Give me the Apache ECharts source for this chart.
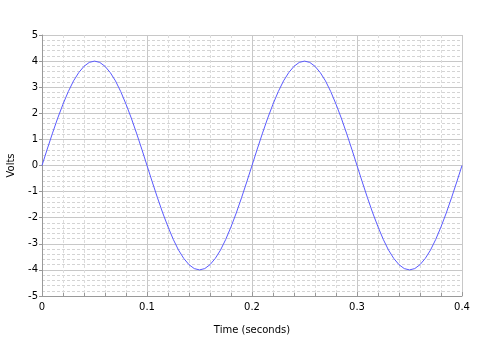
<!DOCTYPE html>
<html>
<head>
<meta charset="UTF-8">
<title></title>
<script src="https://cdn.jsdelivr.net/npm/echarts@6/dist/echarts.min.js"></script>
<style>
  html, body { margin: 0; padding: 0; background: #fff; }
</style>
</head>
<body>
<div id="main" style="width: 480px; height: 355px;"></div>
<script type="text/javascript">
// sample times (s), one every 0.005
var times = [];
for (var i = 0; i <= 80; i++) times.push(+(i * 0.005).toFixed(3));

// voltage at each sample
var volts = [
  0, 0.63, 1.24, 1.82, 2.35, 2.83, 3.24, 3.56, 3.80, 3.95,
  4.00, 3.95, 3.80, 3.56, 3.24, 2.83, 2.35, 1.82, 1.24, 0.63,
  0, -0.63, -1.24, -1.82, -2.35, -2.83, -3.24, -3.56, -3.80, -3.95,
  -4.00, -3.95, -3.80, -3.56, -3.24, -2.83, -2.35, -1.82, -1.24, -0.63,
  0, 0.63, 1.24, 1.82, 2.35, 2.83, 3.24, 3.56, 3.80, 3.95,
  4.00, 3.95, 3.80, 3.56, 3.24, 2.83, 2.35, 1.82, 1.24, 0.63,
  0, -0.63, -1.24, -1.82, -2.35, -2.83, -3.24, -3.56, -3.80, -3.95,
  -4.00, -3.95, -3.80, -3.56, -3.24, -2.83, -2.35, -1.82, -1.24, -0.63,
  0
];

var xName = 'Time (seconds)';
var yName = 'Volts';

var chart = echarts.init(document.getElementById('main'));

var pts = times.map(function (t, i) { return [t, volts[i]]; });

var font = 'DejaVu Sans';

chart.setOption({
  animation: false,
  grid: { left: 42, right: 18, top: 35, bottom: 59, outerBoundsMode: 'none', containLabel: false },
  xAxis: {
    type: 'value',
    min: 0, max: 0.4, interval: 0.1,
    name: xName,
    nameLocation: 'middle',
    nameGap: 29,
    nameTextStyle: { fontFamily: font, fontSize: 10, color: '#000' },
    axisLine: { show: true, onZero: false, lineStyle: { color: '#999' } },
    axisTick: { show: true, inside: true, length: 4, lineStyle: { color: '#999' } },
    minorTick: { show: true, splitNumber: 5, length: 3, lineStyle: { color: '#999' } },
    axisLabel: { fontFamily: font, fontSize: 10, color: '#000', margin: 6,
      formatter: function (v) { return v === 0 ? '0' : v.toFixed(1); } },
    splitLine: { show: true, lineStyle: { color: '#c8c8c8' } },
    minorSplitLine: { show: true, lineStyle: { color: '#dcdcdc', type: [3, 2] } }
  },
  yAxis: {
    type: 'value',
    min: -5, max: 5, interval: 1,
    name: yName,
    nameLocation: 'middle',
    nameGap: 26,
    nameRotate: 90,
    nameTextStyle: { fontFamily: font, fontSize: 10, color: '#000' },
    axisLine: { show: true, onZero: false, lineStyle: { color: '#999' } },
    axisTick: { show: true, length: 3, lineStyle: { color: '#999' } },
    minorTick: { show: false, splitNumber: 5 },
    axisLabel: { fontFamily: font, fontSize: 10, color: '#000', margin: 4 },
    splitLine: { show: true, lineStyle: { color: '#c8c8c8' } },
    minorSplitLine: { show: true, lineStyle: { color: '#d4d4d4', type: [3, 2] } }
  },
  series: [{
    type: 'line',
    data: pts,
    showSymbol: false,
    lineStyle: { color: '#5a5aff', width: 1 }
  }]
});
</script>
</body>
</html>
